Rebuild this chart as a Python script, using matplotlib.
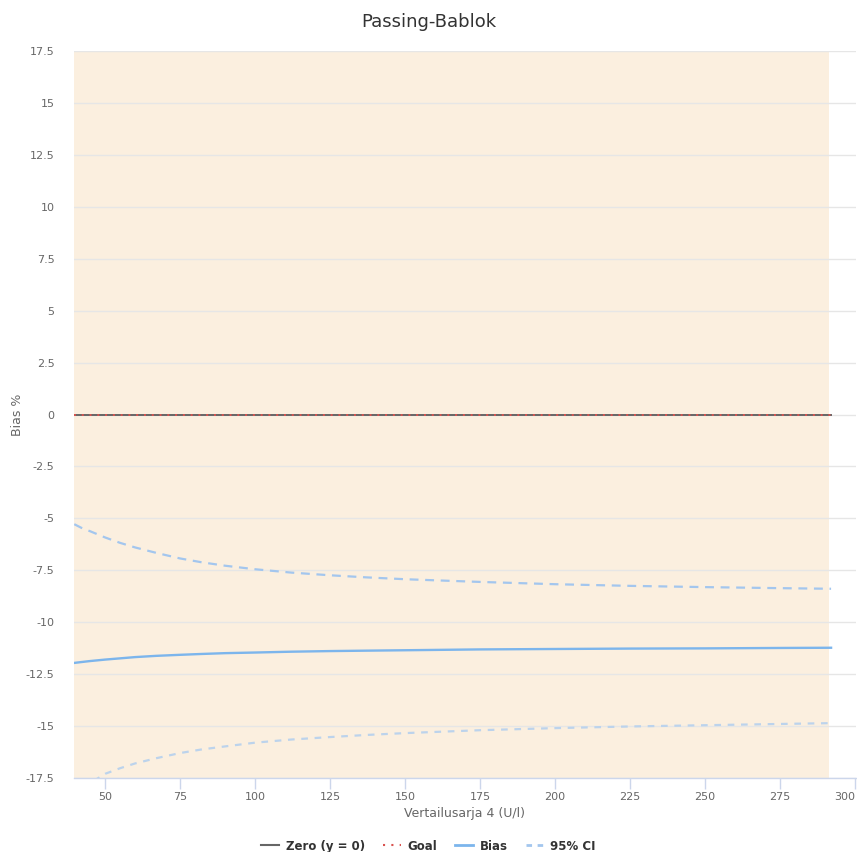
import matplotlib
matplotlib.use("Agg")
import matplotlib.pyplot as plt
from matplotlib.lines import Line2D

# Data
x_vals = [39.7, 42, 45, 50, 55, 60, 67, 75, 82, 90, 100, 112, 125, 137, 150, 175, 200, 225, 250, 275, 292]
bias = [-11.96, -11.92, -11.87, -11.80, -11.74, -11.68, -11.62, -11.57, -11.53, -11.49, -11.46, -11.42,
        -11.39, -11.37, -11.35, -11.31, -11.29, -11.27, -11.26, -11.24, -11.23]
ci_upper = [-5.28, -5.45, -5.62, -5.92, -6.18, -6.40, -6.66, -6.93, -7.11, -7.28, -7.45, -7.61,
            -7.74, -7.84, -7.93, -8.06, -8.17, -8.25, -8.31, -8.36, -8.39]
ci_lower = [-18.5, -18.1, -17.75, -17.3, -17.03, -16.8, -16.55, -16.3, -16.13, -15.98, -15.8, -15.65,
            -15.53, -15.43, -15.34, -15.2, -15.1, -15.02, -14.96, -14.9, -14.86]
zero_x = [39.7, 292]
zero_y = [0, 0]
goal_y = [0, 0]
range_lo, range_hi = 39.7, 291.3
x_ticks = [50, 75, 100, 125, 150, 175, 200, 225, 250, 275, 300]
y_ticks = [17.5, 15, 12.5, 10, 7.5, 5, 2.5, 0, -2.5, -5, -7.5, -10, -12.5, -15, -17.5]

fig = plt.figure(figsize=(8.57, 8.52), dpi=100)
ax = fig.add_axes([0.0863, 0.0869, 0.9125, 0.8531])

ax.axvspan(range_lo, range_hi, color="#fbefdf", zorder=0, lw=0)
for yt in y_ticks:
    ax.axhline(yt, color="#e6e6e6", lw=1, zorder=1)

ax.plot(zero_x, zero_y, color="#666666", lw=1.4, zorder=3)
ax.plot(zero_x, goal_y, color="#d9534f", lw=1.4, ls=(0, (1, 3)), zorder=4)
ax.plot(x_vals, bias, color="#7cb5ec", lw=1.7, zorder=5)
ax.plot(x_vals, ci_upper, color="#a3c6ee", lw=1.6, ls=(0, (4, 3)), zorder=5)
ax.plot(x_vals, ci_lower, color="#bcd3ec", lw=1.6, ls=(0, (3, 3)), zorder=5)

ax.set_xlim(39.6, 300.3)
ax.set_ylim(-17.5, 17.5)
ax.set_xticks(x_ticks)
ax.set_xticklabels([str(t) for t in x_ticks])
ax.set_yticks(y_ticks)
ax.set_yticklabels([("%g" % t) for t in y_ticks])

for s in ["top", "right", "left"]:
    ax.spines[s].set_visible(False)
ax.spines["bottom"].set_color("#ccd6eb")
ax.spines["bottom"].set_linewidth(1)
ax.tick_params(axis="x", colors="#ccd6eb", length=8, width=1, labelcolor="#666666", labelsize=8, pad=2)
ax.tick_params(axis="y", length=0, labelcolor="#666666", labelsize=8, pad=14)
ax.get_xticklabels()[-1].set_horizontalalignment("right")
ax.get_xticklabels()[-1].set_x(300.3)

ax.set_xlabel("Vertailusarja 4 (U/l)", color="#666666", fontsize=9, labelpad=4)
ax.set_ylabel("Bias %", color="#666666", fontsize=9)
ax.yaxis.set_label_coords(-0.064, 0.5)
fig.text(0.5, 0.974, "Passing-Bablok", ha="center", va="center", fontsize=13, color="#333333")

handles = [
    Line2D([], [], color="#666666", lw=1.5),
    Line2D([], [], color="#d9534f", lw=1.5, ls=(0, (1, 3))),
    Line2D([], [], color="#7cb5ec", lw=2),
    Line2D([], [], color="#a3c6ee", lw=2, ls=(0, (2, 2))),
]
labels = ["Zero (y = 0)", "Goal", "Bias", "95% CI"]
leg = fig.legend(handles, labels, loc="center", bbox_to_anchor=(0.5, 0.007), ncol=4, frameon=False,
                 prop={"weight": "bold", "size": 8.5}, handlelength=1.5, handletextpad=0.6, columnspacing=1.5)
for t in leg.get_texts():
    t.set_color("#333333")

fig.savefig("out.png", dpi=100)
